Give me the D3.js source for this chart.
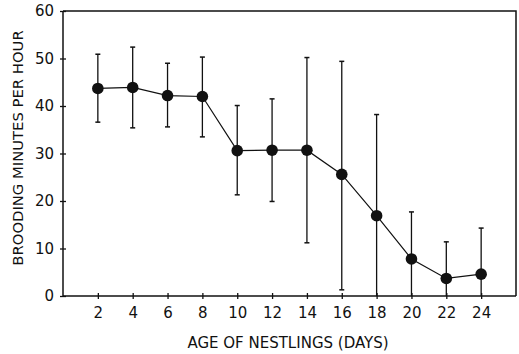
<!DOCTYPE html>
<html><head><meta charset="utf-8">
<script src="https://cdn.jsdelivr.net/npm/d3@7"></script>
<style>body{margin:0;background:#fff}svg{display:block}text{font-family:"DejaVu Sans",sans-serif;fill:#111}</style>
</head><body><svg id="c" width="519" height="354"></svg>
<script>
const ages = [2,4,6,8,10,12,14,16,18,20,22,24];
const means = [43.7,43.9,42.2,42.0,30.6,30.7,30.7,25.6,16.9,7.8,3.7,4.6];
const upper = [50.9,52.4,49.0,50.3,40.1,41.5,50.2,49.4,38.2,17.7,11.4,14.3];
const lower = [36.6,35.4,35.6,33.5,21.3,19.9,11.2,1.3,0,0,0,0];
const yTicks = [0,10,20,30,40,50,60];
const xTicks = [2,4,6,8,10,12,14,16,18,20,22,24];

const svg = d3.select("#c");
const L=63,R=516,T=11,B=296;
const x = d3.scaleLinear().domain([0,26]).range([L,R]);
const y = d3.scaleLinear().domain([0,60]).range([B,T]);
const ink="#111";
const FF="'DejaVu Sans',sans-serif";

svg.append("path").attr("d",`M${L},${T}H${R}V${B}`).attr("fill","none").attr("stroke",ink).attr("stroke-width",1.5);

const yAx = svg.append("g").attr("transform",`translate(${L},0)`)
  .call(d3.axisLeft(y).tickValues(yTicks).tickSize(3).tickPadding(6));
yAx.selectAll(".tick line").attr("x2",-3).attr("x1",3);
const xAx = svg.append("g").attr("transform",`translate(0,${B})`)
  .call(d3.axisBottom(x).tickValues(xTicks).tickSize(3).tickPadding(8));
xAx.selectAll(".tick line").attr("y1",-3).attr("y2",3);
[yAx,xAx].forEach(g=>{
  g.select(".domain").attr("stroke",ink).attr("stroke-width",1.5);
  g.selectAll(".tick line").attr("stroke",ink).attr("stroke-width",1.3);
  g.selectAll("text").attr("font-size",15).attr("fill",ink).style("font-family",FF);
});
xAx.select(".domain").attr("d",`M${L},0H${R}`);
yAx.select(".domain").attr("d",`M0,${B}V${T}`);

const data = ages.map((a,i)=>({a,m:means[i],u:upper[i],l:lower[i]}));
const eb = svg.append("g");
data.forEach(d=>{
  eb.append("line").attr("x1",x(d.a)).attr("x2",x(d.a)).attr("y1",y(d.u)).attr("y2",y(d.l)).attr("stroke",ink).attr("stroke-width",1.3);
  eb.append("line").attr("x1",x(d.a)-2.5).attr("x2",x(d.a)+2.5).attr("y1",y(d.u)).attr("y2",y(d.u)).attr("stroke",ink).attr("stroke-width",1.5);
  if(d.l>0) eb.append("line").attr("x1",x(d.a)-2.5).attr("x2",x(d.a)+2.5).attr("y1",y(d.l)).attr("y2",y(d.l)).attr("stroke",ink).attr("stroke-width",1.5);
});
svg.append("path").datum(data).attr("fill","none").attr("stroke",ink).attr("stroke-width",1.2)
  .attr("d",d3.line().x(d=>x(d.a)).y(d=>y(d.m)));
svg.append("g").selectAll("circle").data(data).join("circle")
  .attr("cx",d=>x(d.a)).attr("cy",d=>y(d.m)).attr("r",5.8).attr("fill",ink);

svg.append("text").attr("x",288).attr("y",348).attr("text-anchor","middle").attr("font-size",15).text("AGE OF NESTLINGS (DAYS)");
svg.append("text").attr("transform",`translate(23,148) rotate(-90)`).attr("text-anchor","middle").attr("font-size",14.8).text("BROODING MINUTES PER HOUR");
</script></body></html>
